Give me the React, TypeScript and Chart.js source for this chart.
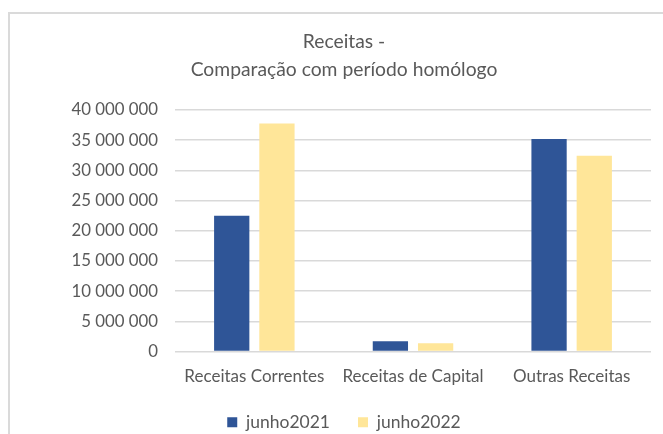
import React, { useEffect, useRef } from "react";
import { Chart, registerables } from "chart.js";

Chart.register(...registerables);

const categories = ["Receitas Correntes", "Receitas de Capital", "Outras Receitas"];
const junho2021 = [22500000, 1700000, 35200000];
const junho2022 = [37750000, 1350000, 32400000];
const seriesNames = ["junho2021", "junho2022"];
const titleLines = ["Receitas -", "Comparação com período homólogo"];

const FONT = "Lato, 'Open Sans', sans-serif";
const TEXT = "#595959";

function fmt(v: number): string {
  return String(Math.round(v)).replace(/\B(?=(\d{3})+(?!\d))/g, " ");
}

export default function App() {
  const ref = useRef<HTMLCanvasElement | null>(null);
  useEffect(() => {
    if (!ref.current) return;
    const chart = new Chart(ref.current, {
      type: "bar",
      data: {
        labels: categories,
        datasets: [
          {
            label: seriesNames[0],
            data: junho2021,
            backgroundColor: "#2F5597",
            categoryPercentage: 0.57,
            barPercentage: 0.78,
          },
          {
            label: seriesNames[1],
            data: junho2022,
            backgroundColor: "#FFE699",
            categoryPercentage: 0.57,
            barPercentage: 0.78,
          },
        ],
      },
      options: {
        animation: false,
        responsive: false,
        maintainAspectRatio: false,
        layout: { padding: { left: 37, right: 12, top: 28, bottom: 0 } },
        plugins: {
          title: {
            display: true,
            text: titleLines,
            color: TEXT,
            font: { family: FONT, size: 19.3, weight: "normal", lineHeight: 1.45 },
            padding: { top: 0, bottom: 26 },
          },
          legend: {
            position: "bottom",
            labels: {
              color: TEXT,
              font: { family: FONT, size: 17.5 },
              boxWidth: 10,
              boxHeight: 10,
              padding: 28,
            },
          },
          tooltip: { enabled: false },
        },
        scales: {
          x: {
            afterFit: (s: any) => {
              s.height = 34;
            },
            grid: { display: false, drawTicks: false },
            border: { display: false },
            ticks: { color: TEXT, font: { family: FONT, size: 17 }, padding: 15 },
          },
          y: {
            min: 0,
            max: 40000000,
            afterFit: (s: any) => {
              s.width = 175 - 37;
            },
            grid: { color: "#d9d9d9", lineWidth: 1.5, drawTicks: false },
            border: { display: false },
            ticks: {
              stepSize: 5000000,
              color: TEXT,
              font: { family: FONT, size: 16.8 },
              padding: 17,
              callback: (v: any) => fmt(Number(v)),
            },
          },
        },
      },
    });
    return () => chart.destroy();
  }, []);
  return (
    <div style={{ position: "absolute", left: 0, top: 0, width: 663, height: 434, background: "#fff", overflow: "hidden" }}>
      <div
        style={{
          position: "absolute",
          left: 8,
          top: 12,
          width: 700,
          height: 500,
          borderLeft: "2px solid #dadada",
          borderTop: "2px solid #dadada",
        }}
      />
      <canvas ref={ref} width={663} height={441} style={{ position: "absolute", left: 0, top: 0 }} />
    </div>
  );
}
